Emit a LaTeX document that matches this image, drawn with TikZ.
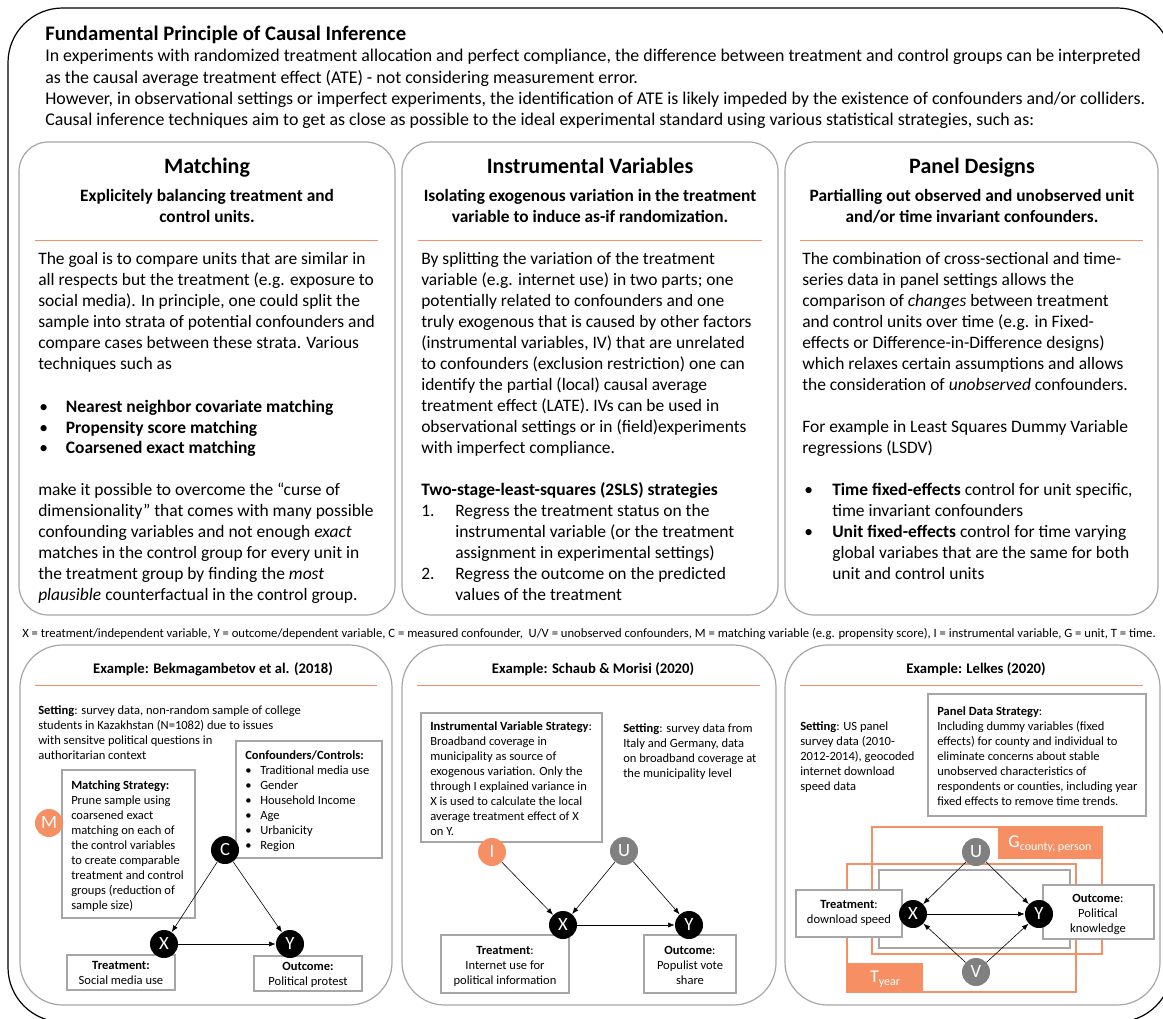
\documentclass[tikz,border=0pt]{standalone}
\usepackage{fontspec}
\setmainfont{Carlito}
\usetikzlibrary{arrows.meta}
\definecolor{orng}{RGB}{247,143,100}
\definecolor{gbox}{RGB}{166,166,166}
\definecolor{gcirc}{RGB}{128,128,128}
\newcommand\fTop{\fontsize{13.4}{16}\selectfont}
\newcommand\fBody{\fontsize{13.1}{15.75}\selectfont}
\newcommand\fSmall{\fontsize{9.4}{11.25}\selectfont}
\newcommand\bul{\makebox[20pt][l]{\textbullet}}
\newcommand\sbul{\makebox[11.25pt][l]{\textbullet}}
\newcommand\numb[1]{\makebox[25.5pt][l]{#1}}
\newcommand\blkL[1]{\begin{tabular}[t]{@{}l@{}}#1\end{tabular}}
\newcommand\blkC[1]{\begin{tabular}[t]{@{}c@{}}#1\end{tabular}}
\begin{document}
\begin{tikzpicture}[x=0.75pt,y=-0.75pt,
  txt/.style={inner sep=0pt, anchor=base west},
  ctxt/.style={inner sep=0pt, anchor=base},
  panel/.style={draw=gbox, line width=0.9pt, rounded corners=22pt},
  panelb/.style={draw=gbox, line width=0.9pt, rounded corners=32pt},
  boxx/.style={draw=gbox, fill=white, line width=0.9pt},
  sep/.style={draw=orng, line width=0.7pt},
  vc/.style={circle, minimum size=21pt, inner sep=0pt, text=white, font=\fontsize{14}{14}\selectfont},
  arr/.style={-{Latex[length=5pt,width=3.8pt]}, line width=0.45pt},
  ttl/.style={ctxt, font=\fontsize{16.5}{18}\selectfont\bfseries},
  sub/.style={ctxt, font=\fontsize{13}{15.75}\selectfont\bfseries},
  ex/.style={ctxt, font=\fontsize{11}{12}\selectfont\bfseries},
  frame/.style={draw=orng, line width=0.9pt}
]
\useasboundingbox (0,0) rectangle (1163,1019);
\clip (0,0) rectangle (1163,1019);
\fill[white] (0,0) rectangle (1163,1019);
% outer frame
\draw[line width=0.9pt, rounded corners=41pt] (8,8) rectangle (1172,1022);

% header
\node[txt, font=\fontsize{15.5}{18}\selectfont\bfseries] (title) at (45,41) {Fundamental Principle of Causal Inference};
\node[txt, font=\fTop] (intro) at (45,62) {\blkL{In experiments with randomized treatment allocation and perfect compliance, the difference between treatment and control groups can be interpreted\\
as the causal average treatment effect (ATE) - not considering measurement error.\\
However, in observational settings or imperfect experiments, the identification of ATE is likely impeded by the existence of confounders and/or colliders.\\
Causal inference techniques aim to get as close as possible to the ideal experimental standard using various statistical strategies, such as:}};

% ---------- top panels ----------
\draw[panel] (19,142) rectangle (395,615);
\draw[panel] (402,142) rectangle (778,615);
\draw[panel] (785,142) rectangle (1158,615);

\node[ttl] (t1) at (207,174) {Matching};
\node[ttl] (t2) at (590,174) {Instrumental Variables};
\node[ttl] (t3) at (972,174) {Panel Designs};

\node[sub] (s1) at (207,202) {\blkC{Explicitely balancing treatment and\\control units.}};
\node[sub] (s2) at (590,202) {\blkC{Isolating exogenous variation in the treatment\\variable to induce as-if randomization.}};
\node[sub] (s3) at (972,202) {\blkC{Partialling out observed and unobserved unit\\and/or time invariant confounders.}};

\draw[sep] (35,240) -- (378,240);
\draw[sep] (418,240) -- (762,240);
\draw[sep] (800,240) -- (1143,240);

% Matching body
\node[txt, font=\fBody] (m1) at (38,265) {\blkL{The goal is to compare units that are similar in\\
all respects but the treatment (e.g. exposure to\\
social media). In principle, one could split the\\
sample into strata of potential confounders and\\
compare cases between these strata. Various\\
techniques such as}};
\node[txt, font=\fontsize{13.1}{15.2}\selectfont] (m2) at (39,413) {\blkL{\bul\textbf{Nearest neighbor covariate matching}\\
\bul\textbf{Propensity score matching}\\
\bul\textbf{Coarsened exact matching}}};
\node[txt, font=\fBody] (m3) at (38,495) {\blkL{make it possible to overcome the “curse of\\
dimensionality” that comes with many possible\\
confounding variables and not enough \textit{exact}\\
matches in the control group for every unit in\\
the treatment group by finding the \textit{most}\\
\textit{plausible} counterfactual in the control group.}};

% IV body
\node[txt, font=\fBody] (i1) at (421,265) {\blkL{By splitting the variation of the treatment\\
variable (e.g. internet use) in two parts; one\\
potentially related to confounders and one\\
truly exogenous that is caused by other factors\\
(instrumental variables, IV) that are unrelated\\
to confounders (exclusion restriction) one can\\
identify the partial (local) causal average\\
treatment effect (LATE). IVs can be used in\\
observational settings or in (field)experiments\\
with imperfect compliance.}};
\node[txt, font=\fBody] (i2) at (421,495) {\blkL{\textbf{Two-stage-least-squares (2SLS) strategies}\\
\numb{1.}Regress the treatment status on the\\
\hspace*{25.5pt}instrumental variable (or the treatment\\
\hspace*{25.5pt}assignment in experimental settings)\\
\numb{2.}Regress the outcome on the predicted\\
\hspace*{25.5pt}values of the treatment}};

% Panel body
\node[txt, font=\fBody] (p1) at (802,265) {\blkL{The combination of cross-sectional and time-\\
series data in panel settings allows the\\
comparison of \textit{changes} between treatment\\
and control units over time (e.g. in Fixed-\\
effects or Difference-in-Difference designs)\\
which relaxes certain assumptions and allows\\
the consideration of \textit{unobserved} confounders.}};
\node[txt, font=\fBody] (p2) at (802,433) {\blkL{For example in Least Squares Dummy Variable\\
regressions (LSDV)}};
\node[txt, font=\fBody] (p3) at (804,495) {\blkL{\makebox[21pt][l]{\textbullet}\textbf{Time fixed-effects} control for unit specific,\\
\hspace*{21pt}time invariant confounders\\
\makebox[21pt][l]{\textbullet}\textbf{Unit fixed-effects} control for time varying\\
\hspace*{21pt}global variabes that are the same for both\\
\hspace*{21pt}unit and control units}};

% footnote
\node[txt, font=\fontsize{9.5}{11}\selectfont] (note) at (22,637) {X = treatment/independent variable, Y = outcome/dependent variable, C = measured confounder,\ \ U/V = unobserved confounders, M = matching variable (e.g. propensity score), I = instrumental variable, G = unit, T = time.};

% ---------- bottom panels ----------
\draw[panelb] (20,645) rectangle (392,1005);
\draw[panelb] (402,645) rectangle (776,1005);
\draw[panelb] (785,645) rectangle (1160,1005);

\node[ex] (e1) at (213,673) {Example: Bekmagambetov et al. (2018)};
\node[ex] (e2) at (593,673) {Example: Schaub \& Morisi (2020)};
\node[ex] (e3) at (976,673) {Example: Lelkes (2020)};
\draw[sep] (35,685) -- (377,685);
\draw[sep] (417,685) -- (760,685);
\draw[sep] (800,685) -- (1143,685);

% --- left example ---
\node[txt, font=\fSmall] (ls) at (38,714) {\blkL{\textbf{Setting}: survey data, non-random sample of college\\
students in Kazakhstan (N=1082) due to issues\\
with sensitve political questions in\\
authoritarian context}};
\draw[boxx] (236,741) rectangle (382,858);
\node[txt, font=\fSmall] (lconf) at (245,759) {\blkL{\textbf{Confounders/Controls:}\\
\sbul Traditional media use\\
\sbul Gender\\
\sbul Household Income\\
\sbul Age\\
\sbul Urbanicity\\
\sbul Region}};
\draw[boxx] (62,770) rectangle (195,918);
\node[txt, font=\fSmall] (lms) at (71,789) {\blkL{\textbf{Matching Strategy:}\\
Prune sample using\\
coarsened exact\\
matching on each of\\
the control variables\\
to create comparable\\
treatment and control\\
groups (reduction of\\
sample size)}};
\draw[boxx] (67,955) rectangle (175,990);
\node[ctxt, font=\fSmall] (ltr) at (121,969) {\blkC{\textbf{Treatment:}\\Social media use}};
\draw[boxx] (254,956) rectangle (362,991);
\node[ctxt, font=\fSmall] (lout) at (308,970) {\blkC{\textbf{Outcome:}\\Political protest}};
\node[vc, fill=orng] (lm) at (49,823) {M};
\node[vc, fill=black] (lc) at (225,850) {C};
\node[vc, fill=black] (lx) at (164,944) {X};
\node[vc, fill=black] (ly) at (290,944) {Y};
\draw[arr] (lc) -- (lx);
\draw[arr] (lc) -- (ly);
\draw[arr] (lx) -- (ly);

% --- middle example ---
\draw[boxx] (421,713) rectangle (602,842);
\node[txt, font=\fSmall] (miv) at (430,730) {\blkL{\textbf{Instrumental Variable Strategy}:\\
Broadband coverage in\\
municipality as source of\\
exogenous variation. Only the\\
through I explained variance in\\
X is used to calculate the local\\
average treatment effect of X\\
on Y.}};
\node[txt, font=\fSmall] (ms) at (623,732) {\blkL{\textbf{Setting}: survey data from\\
Italy and Germany, data\\
on broadband coverage at\\
the municipality level}};
\draw[boxx] (441,935) rectangle (569,993);
\node[ctxt, font=\fSmall] (mtr) at (505,954) {\blkC{\textbf{Treatment}:\\Internet use for\\political information}};
\draw[boxx] (644,935) rectangle (736,993);
\node[ctxt, font=\fSmall] (mout) at (690,954) {\blkC{\textbf{Outcome}:\\Populist vote\\share}};
\node[vc, fill=orng] (mi) at (492,852) {I};
\node[vc, fill=gcirc] (mu) at (624,851) {U};
\node[vc, fill=black] (mx) at (563,925) {X};
\node[vc, fill=black] (my) at (689,925) {Y};
\draw[arr] (mi) -- (mx);
\draw[arr] (mu) -- (mx);
\draw[arr] (mu) -- (my);
\draw[arr] (mx) -- (my);

% --- right example ---
\node[txt, font=\fSmall] (rs) at (800,730) {\blkL{\textbf{Setting}: US panel\\
survey data (2010-\\
2012-2014), geocoded\\
internet download\\
speed data}};
\draw[boxx] (928,694) rectangle (1146,816);
\node[txt, font=\fSmall] (rpd) at (937,715) {\blkL{\textbf{Panel Data Strategy}:\\
Including dummy variables (fixed\\
effects) for county and individual to\\
eliminate concerns about stable\\
unobserved characteristics of\\
respondents or counties, including year\\
fixed effects to remove time trends.}};
\draw[frame] (872,827) rectangle (1102,954);
\draw[frame] (847,864) rectangle (1076,992);
\draw[draw=gbox, line width=0.9pt] (879,870) rectangle (1070,948);
\fill[orng] (998,827) rectangle (1102,859);
\node[text=white, inner sep=0pt, font=\fontsize{13.5}{14}\selectfont] (rg) at (1050,844) {G\raisebox{-2.5pt}{\fontsize{9}{10}\selectfont county, person}};
\fill[orng] (847,963) rectangle (923,992);
\node[text=white, inner sep=0pt, font=\fontsize{13.5}{14}\selectfont] (rt) at (885,979) {T\raisebox{-2.5pt}{\fontsize{9}{10}\selectfont year}};
\draw[boxx] (796,890) rectangle (902,937);
\node[ctxt, font=\fSmall] (rtr) at (849,908) {\blkC{\textbf{Treatment}:\\download speed}};
\draw[boxx] (1043,885) rectangle (1154,939);
\node[ctxt, font=\fSmall] (rout) at (1098,902) {\blkC{\textbf{Outcome}:\\Political\\knowledge}};
\node[vc, fill=gcirc] (ru) at (976,852) {U};
\node[vc, fill=black] (rx) at (913,914) {X};
\node[vc, fill=black] (ry) at (1039,914) {Y};
\node[vc, fill=gcirc] (rv) at (976,972) {V};
\draw[arr] (ru) -- (rx);
\draw[arr] (ru) -- (ry);
\draw[arr] (rx) -- (ry);
\draw[arr] (rv) -- (rx);
\draw[arr] (rv) -- (ry);
\end{tikzpicture}
\end{document}
